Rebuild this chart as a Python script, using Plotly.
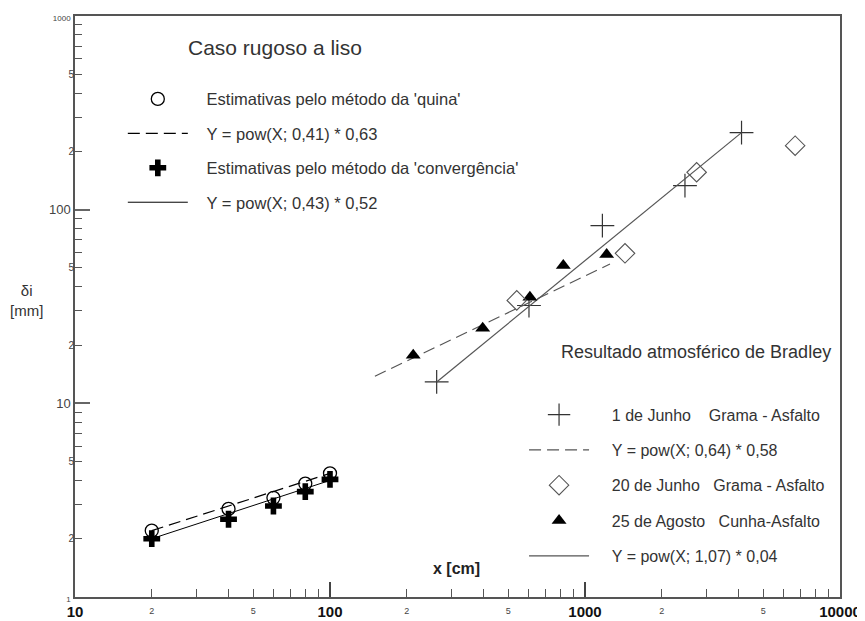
import plotly.graph_objects as go

# ---- data ----
quina_x = [20, 40, 60, 80, 100]
quina_y = [2.2, 2.85, 3.25, 3.85, 4.35]
conv_x = [20, 40, 60, 80, 100]
conv_y = [2.0, 2.52, 2.95, 3.5, 4.05]
fit_quina_x = [20, 100]
fit_quina_y = [2.2, 4.35]
fit_conv_x = [20, 100]
fit_conv_y = [2.0, 4.0]

junho1_x = [262, 603, 1170, 2466, 4110]
junho1_y = [12.9, 32, 82.7, 133, 250]
junho20_x = [540, 1435, 2740, 6670]
junho20_y = [34, 59.5, 156, 214]
agosto_x = [212, 397, 608, 822, 1216]
agosto_y = [17.7, 24.4, 35.3, 51.5, 58.6]
fit064_x = [150, 1253]
fit064_y = [13.8, 52.4]
fit107_x = [262, 4110]
fit107_y = [12.9, 250]

x_major = [10, 100, 1000, 10000]
x_major_text = ["<b>10</b>", "<b>100</b>", "<b>1000</b>", "<b>10000</b>"]
y_major = [1, 10, 100, 1000]
y_major_text = ['<span style="font-size:8px">1</span>', "10", "100",
                '<span style="font-size:8px">1000</span>']
minor_mult = [2, 3, 4, 5, 6, 7, 8, 9]
minor_text = {2: "2", 5: "5"}

x_minor = [m * d for d in [10, 100, 1000] for m in minor_mult]
x_minor_text = [minor_text.get(m, "") for d in [10, 100, 1000] for m in minor_mult]
y_minor = [m * d for d in [1, 10, 100] for m in minor_mult]
y_minor_text = [minor_text.get(m, "") for d in [1, 10, 100] for m in minor_mult]

FONT = "Liberation Sans, Arial, sans-serif"
TXT = "#333333"
GRAY = "#555555"
PAD = "&nbsp;&nbsp;&nbsp;"
PAD2 = "&nbsp;&nbsp;&nbsp;&nbsp;"

fig = go.Figure()

# left group
fig.add_trace(go.Scatter(x=quina_x, y=quina_y, mode="markers",
                         name=PAD + "Estimativas pelo método da 'quina'",
                         legend="legend", legendgroup="a",
                         marker=dict(symbol="circle-open", size=13, color="black",
                                     line=dict(width=1.3, color="black"))))
fig.add_trace(go.Scatter(x=fit_quina_x, y=fit_quina_y, mode="lines",
                         name=PAD + "Y = pow(X; 0,41) * 0,63",
                         legend="legend", legendgroup="b",
                         line=dict(color="black", width=1.2, dash="12px,6px")))
fig.add_trace(go.Scatter(x=conv_x, y=conv_y, mode="markers",
                         name=PAD + "Estimativas pelo método da 'convergência'",
                         legend="legend", legendgroup="c",
                         marker=dict(symbol="cross", size=14, color="black",
                                     line=dict(width=0))))
fig.add_trace(go.Scatter(x=fit_conv_x, y=fit_conv_y, mode="lines",
                         name=PAD + "Y = pow(X; 0,43) * 0,52",
                         legend="legend", legendgroup="d",
                         line=dict(color="black", width=1)))

# Bradley group
fig.add_trace(go.Scatter(x=junho1_x, y=junho1_y, mode="markers",
                         name=PAD2 + "1 de Junho&nbsp;&nbsp;&nbsp; Grama - Asfalto",
                         legend="legend2", legendgroup="e",
                         marker=dict(symbol="cross-thin-open", size=17, color="#333",
                                     line=dict(width=1.2, color="#333"))))
fig.add_trace(go.Scatter(x=fit064_x, y=fit064_y, mode="lines",
                         name=PAD2 + "Y = pow(X; 0,64) * 0,58",
                         legend="legend2", legendgroup="f",
                         line=dict(color=GRAY, width=1.2, dash="12px,6px")))
fig.add_trace(go.Scatter(x=junho20_x, y=junho20_y, mode="markers",
                         name=PAD2 + "20 de Junho&nbsp;&nbsp; Grama - Asfalto",
                         legend="legend2", legendgroup="g", xaxis="x2", yaxis="y",
                         marker=dict(symbol="diamond-open", size=15, color=GRAY,
                                     line=dict(width=1.1, color=GRAY))))
fig.add_trace(go.Scatter(x=agosto_x, y=agosto_y, mode="markers",
                         name=PAD2 + "25 de Agosto&nbsp;&nbsp; Cunha-Asfalto",
                         legend="legend2", legendgroup="h", xaxis="x", yaxis="y2",
                         marker=dict(symbol="triangle-up", size=13, color="black")))
fig.add_trace(go.Scatter(x=fit107_x, y=fit107_y, mode="lines",
                         name=PAD2 + "Y = pow(X; 1,07) * 0,04",
                         legend="legend2", legendgroup="i",
                         line=dict(color=GRAY, width=1.2)))

axis_common = dict(type="log", showgrid=False, zeroline=False, ticks="inside",
                   automargin=False)

# the page body has an 8px default margin, so the figure is 8px smaller
fig.update_layout(
    width=857, height=613,
    margin=dict(l=67, r=25, t=8, b=24, autoexpand=False),
    paper_bgcolor="white", plot_bgcolor="white",
    font=dict(family=FONT, color=TXT, size=12),
    showlegend=True,
    xaxis=dict(**axis_common, range=[1, 4], tickmode="array",
               tickvals=x_major, ticktext=x_major_text,
               ticklen=15, tickwidth=2, tickcolor="#444",
               tickfont=dict(size=15, color="#111", family=FONT),
               ticklabelstandoff=0,
               showline=True, linecolor="#555", linewidth=1.5, mirror=True),
    xaxis2=dict(**axis_common, range=[1, 4], overlaying="x", anchor="y", side="bottom",
                tickmode="array", tickvals=x_minor, ticktext=x_minor_text,
                ticklen=8, tickwidth=1.2, tickcolor="#555",
                tickfont=dict(size=9, color="#444"), ticklabelstandoff=7,
                showline=False),
    yaxis=dict(**axis_common, range=[0, 3], tickmode="array",
               tickvals=y_major, ticktext=y_major_text,
               ticklen=15, tickwidth=2, tickcolor="#666",
               tickfont=dict(size=13, color="#444"),
               showline=True, linecolor="#555", linewidth=1.5, mirror=True),
    yaxis2=dict(**axis_common, range=[0, 3], overlaying="y", anchor="x", side="left",
                tickmode="array", tickvals=y_minor, ticktext=y_minor_text,
                ticklen=7, tickwidth=1.2, tickcolor="#555",
                tickfont=dict(size=10, color="#444"), showline=False),
    legend=dict(x=0.0625, y=0.887, xanchor="left", yanchor="top",
                bgcolor="rgba(0,0,0,0)", traceorder="grouped", tracegroupgap=10,
                itemwidth=60, font=dict(size=16.5, color=TXT, family=FONT)),
    legend2=dict(x=0.587, y=0.343, xanchor="left", yanchor="top",
                 bgcolor="rgba(0,0,0,0)", traceorder="grouped", tracegroupgap=11.5,
                 itemwidth=60, font=dict(size=16, color=TXT, family=FONT)),
    annotations=[
        dict(text="Caso rugoso a liso", xref="paper", yref="paper",
             x=0.261, y=0.945, xanchor="center", yanchor="middle",
             showarrow=False, font=dict(size=21, color=TXT)),
        dict(text="Resultado atmosférico de Bradley", xref="paper", yref="paper",
             x=0.8124, y=0.4217, xanchor="center", yanchor="middle",
             showarrow=False, font=dict(size=18, color=TXT)),
        dict(text="δi<br>[mm]", xref="paper", yref="paper",
             x=-0.063, y=0.511, xanchor="center", yanchor="middle",
             showarrow=False, font=dict(size=15, color=TXT)),
        dict(text="<b>x [cm]</b>", xref="paper", yref="paper",
             x=0.4993, y=0.0499, xanchor="center", yanchor="middle",
             showarrow=False, font=dict(size=16, color="#222")),
    ],
)

fig.write_html("out.html")
